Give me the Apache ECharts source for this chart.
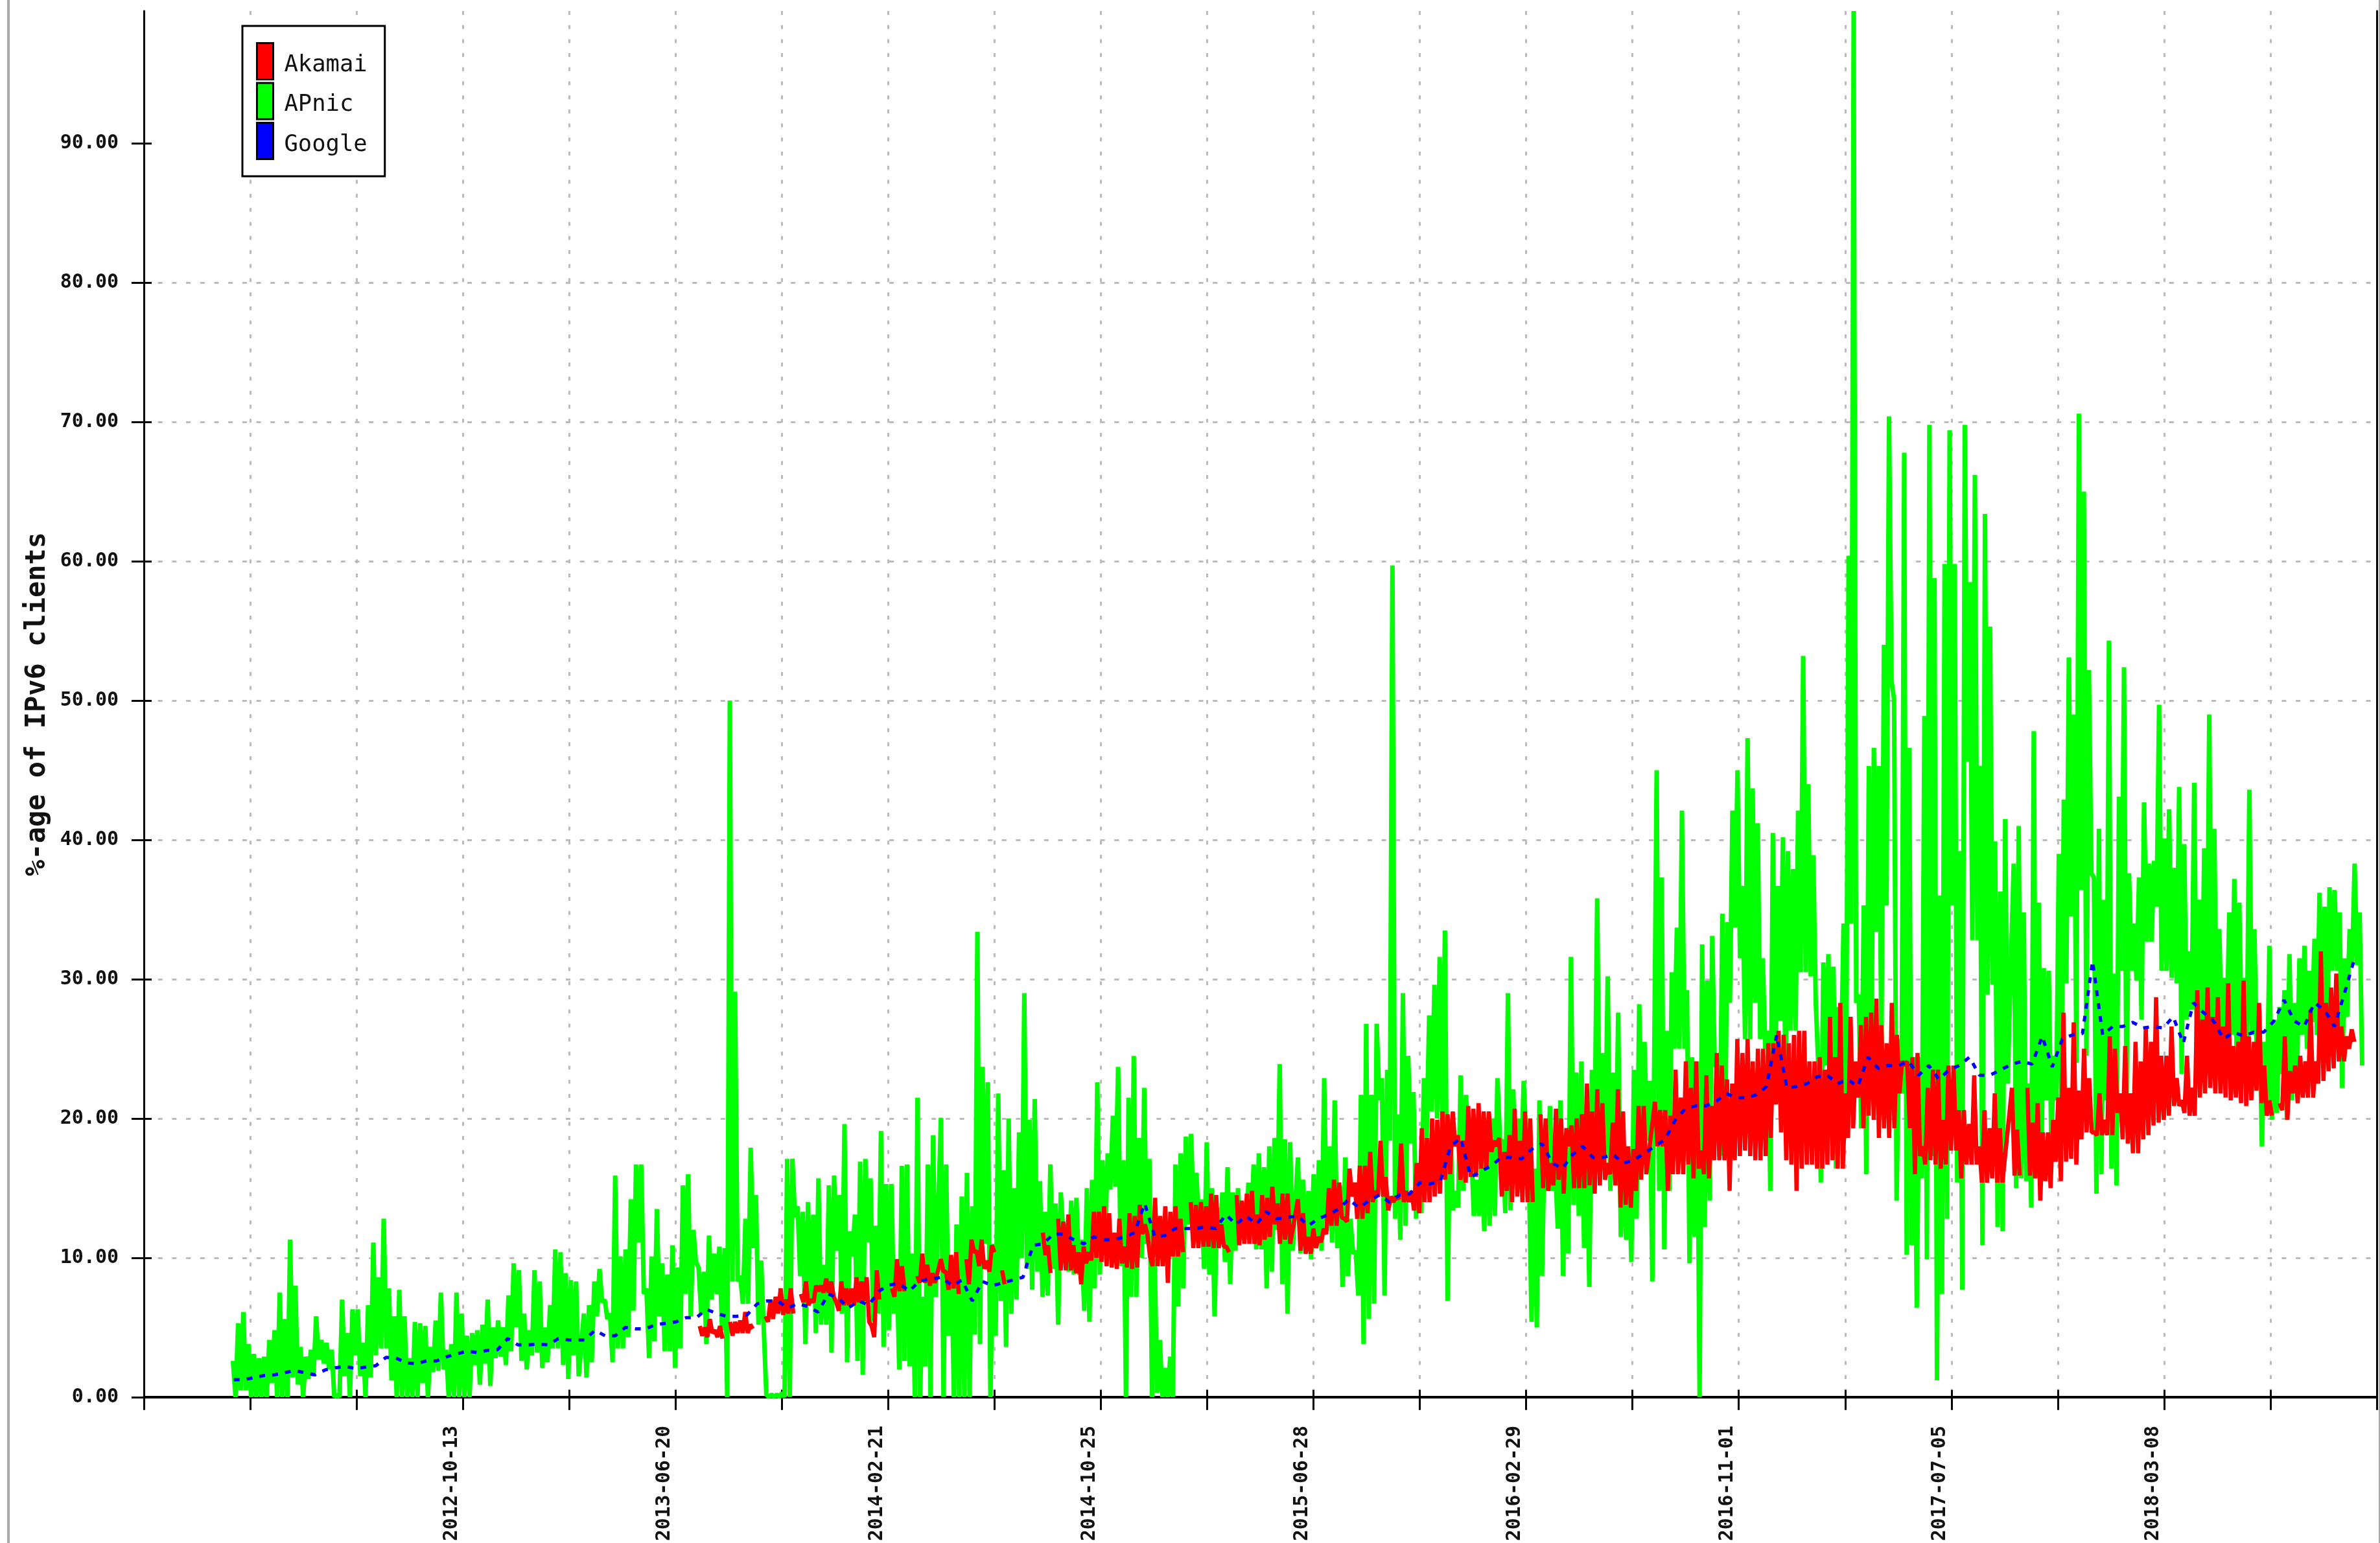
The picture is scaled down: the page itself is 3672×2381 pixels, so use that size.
<!DOCTYPE html>
<html><head><meta charset="utf-8">
<style>html,body{margin:0;padding:0;background:#fff}#c{width:3672px;height:2381px}</style>
<script src="https://cdn.jsdelivr.net/npm/echarts@6/dist/echarts.min.js"></script>
</head><body><div id="c"></div>
<script>
// Tick labels: every second tick of the day axis, starting at the 4th tick
const xTickLabels = ['2012-10-13','2013-06-20','2014-02-21','2014-10-25','2015-06-28','2016-02-29','2016-11-01','2017-07-05','2018-03-08'];
const dayTick = 123;
const dayMax = 2583;
const seriesNames = ['Akamai','APnic','Google'];

// Each array: alternating high, low of successive columns (%). Spans are in days from the axis start.
const apnicSpans = [[103,506],[509,919],[922,1332],[1335,1748],[1750,2159],[2163,2569]];
const apnic1 = [2.6,0,5.3,0.5,6.1,0.5,3.8,0,3.1,0,2.8,0,2.9,0,4.1,1,4.8,0,7.5,0,5.6,0,11.3,1.4,8,0.9,3.6,0,2.9,1.3,3.4,1.5,5.8,2.7,4.1,2.4,3.9,2,3.4,0,0.2,0,7,1.5,4.6,0,6.3,3,6.3,1.5,3.9,0,6.6,1.4,11.1,3,8.6,3.5,12.8,3.5,7.8,1.2,5.8,0,7.7,0,5.8,0,2.8,0,5.4,0,5.3,1,5.1,0,3.6,1.8,5.5,1.9,7.5,2,3.4,0,3.8,0,7.5,0,6,0,4.4,0,4.6,2.3,4.8,0.9,5.2,2.4,7,0.8,5,2.8,5.5,2.9,5,2.3,7.3,3.3,9.6,5,9.1,2.6,6,2,4.8,3,9.1,3.2,8.3,2.1,5,2.5,6.6,3.5,10.6,3.5,10.4,2.3,8.9,1.3,8.4,3,8.3,1.5];
const apnic2 = [6,1.4,6.6,2.5,8.3,5.8,9.2,6.8,7,5.6,6,2.5,15.9,3.5,10.1,3.5,10.6,4.3,14.2,6.2,16.7,11.1,16.7,7.4,7.8,2.8,10.1,4,13.5,5.8,9.6,3.3,8.8,3.3,10.9,2.1,9.3,3.5,15.2,7.4,16,5.8,12,9.7,9.3,6,9,3.8,11.6,7,10.3,7.4,10.8,4.8,10.7,0,50,8.3,29.1,8.3,8.7,6.7,12.8,6.7,17.9,10.7,14.5,5.2,9.8,5,0.2,0,0.2,0,0.2,0,0.3,0,17.1,0,17.1,12.9,13.7,8.7,13.3,3.8,14,6.8,13.1,4.6,15.7,5.2,9.5,5.2,15.2,3.2,15.9,10.5,14.5,6,19.6,2.5,11.9,10.1,13.1,2.6,16.9,1.6,17.1,11.1,15.7,5.4,12.3,6,19.1,3.6,15.3,4.8,15.3,6,9.9,2,16.6,2.6,16.7,2.2,10.3,0,21.5,0,7.2,2.2,16.7,0,18.8,7.2];
const apnic3 = [20.05,0,16.7,4.4,10,0,12.4,0,14.4,0,16.1,0,13.7,4.5,33.4,3.8,23.7,11,22.6,0,11,4.4,21.8,6.9,16.3,3.6,20,6,15,7,19,10,29,9.2,19.9,7.7,21.4,9,15.5,7.2,13.3,7.3,16.7,9.2,13.9,5.2,14.7,11.5,12.4,9,14.1,8.8,14.3,8.8,11.3,6.2,15,5.4,15.6,7.8,22.6,8.8,17,11.3,17.5,14.9,20.2,15.1,23.7,9.4,17,0,21.5,7.2,24.5,7.2,18.6,10,22.2,11,17.1,0,9.9,0.3,4.1,0,2.1,0,2.9,0,16.7,6.5,17.5,7.8,18.7,12.4,18.9,12.9,16.1,12.4,14.2,9.2,18.3,8.8,15,5.8,13.6,11,14.7,9.7,16.5,8.1,14.7,10.5,15,11.3,14,11.3,15.4,12,16.7,10.6,17.5,10.6,16.5,7.8,18,9,18.6,12,23.9,8.1,18.5,6,18.3,10.5];
const apnic4 = [17.2,10.3,15.6,10.3,14.8,9.9,16,10.7,17,10.5,22.9,11.9,18,11.1,21.3,10.7,15.2,7.9,17.2,8.7,12.8,10.3,10.5,7.3,21.7,3.8,26.8,5.6,21.7,6.7,26.8,21.3,22.9,7.3,23.5,18.4,59.7,12.8,20.3,11.3,29,12.3,24.5,18.2,21.9,12.8,16.8,13.2,22.9,18.4,27.4,20.5,29.6,20,31.6,20,33.5,6.9,20,13.4,14.8,13.6,23.1,14.8,21.7,18.4,18,13,15.6,13,17.2,11.9,20,12.3,20,13,22.9,18.4,18.4,13.2,29,13.4,22.1,16.4,20,16.4,22.7,18.4,16,5.4,16.4,5,21.3,8.7,18.8,14.8,20.9,14.8,16.4,12.1,21.3,8.7,17.2,10.3,31.6,13.8,23.3,13,24.1,10.7,18.4,7.9,23.5,18.4,35.8,16.4,24.7,17.2,30.2,14.8,23.3,15.2,27.6,11.5,17.2,11.3,16.8,9.7,23.5,12.8,28.2,19.7,25.5,18.4,22.7,8.3];
const apnic5 = [45,14.8,37.3,10.6,26.3,14.8,30.5,25,33.7,25,42.1,25,29.2,9.6,24.4,11.5,24.1,0,32.5,12.2,29.9,14.1,33.1,23.8,23.8,17.3,34.7,17.3,34.1,28.3,42.1,33.7,45,31.5,36.7,25.7,47.3,25.7,43.7,28.3,41.2,25.7,31.5,25,26.3,14.8,40.5,23.8,36.7,27,40.2,22.5,39.2,26.3,37.9,26.3,42.1,30.5,53.2,30.5,44,30.2,38.9,28.3,23.8,15.4,31.2,23.8,31.8,23.2,30.9,16.4,28,23.8,34,20.5,60.4,34,99.5,28.3,28.9,19.3,35.3,16,45.3,25,46.6,33.4,45.3,25,54,35.3,70.4,51.4,50.1,14.1,25.7,21.8,67.8,10.2,46.6,10.9,24.4,6.4,24.4,15.7,48.9,9.9,69.8,17.3,58.8,1.2,36,7.4,59.8,12.8,69.4,35.3,59.8,15.4,39.2,7.7,69.8,45.6,58.5,32.8,66.2,32.8,45.3,10.9,63.4,28.9,55.3,29.6,39.9,12.2,36.3,11.9,41.5,22.5];
const apnic6 = [38.3,15,41,15.7,34.8,15.5,22.5,13.6,47.8,15.7,35.5,15.7,30.8,21.3,30.6,18.1,24.5,21.3,39,21.3,42.9,29.7,53.1,34.5,49,24,70.6,36.4,65,24.5,52.2,37.6,37.3,14.6,40.8,16,35.7,21.3,54.3,16.4,30.4,15.2,43.1,30.6,52.4,21.3,37.6,30.6,34,29.9,37.3,27.1,42.7,32.7,38.3,32.7,38.5,35.2,49.7,30.6,40.1,30.6,42.2,30.1,38,29.7,43.8,23.2,39.7,27.1,32,27.8,44.1,25,35.7,25.5,39.4,26,49,26,40.8,26.4,33.6,26,30.1,26.4,34.8,26,37.2,23.6,35.5,25,30.1,25,43.6,26,33.6,24.5,27.8,18,25.5,21.3,32.4,19.9,27.1,20.4,28,23.2,29.2,19.9,31.8,21.3,28.3,23.2,31.5,26,32.4,25,30.6,26.9,32.9,26,36.2,26,35.2,24.1,36.6,30.6,36.4,30.6,34.8,22.2,31.5,27.3,33.6,31,38.3,31,34.8,23.8];

const akamaiSpans = [[643,918],[922,1329],[1335,1741],[1748,2153],[2161,2560]];
const akamai1 = [5.1,4.4,5,4.3,5.6,4.6,4.8,4.3,5.1,4.2,null,null,5.4,4.4,5.4,4.6,5.5,4.6,6.1,4.6,5.2,4.9,null,null,null,null,5.8,5.4,7,5.6,7.2,6,7.8,5.9,7,6,7.8,6,null,null,7.4,6.8,8.3,6.6,7,6.8,8,7.6,8,7.5,8.5,7.5,8.3,7.2,6.8,6.2,8.3,6.6,7.8,6.6,7.8,6.6,8.6,6.8,8.3,6.9,8.6,5.4,5.1,4.3,9.1,7,null,null,null,null,7.8,7.2,9.9,7.6,9.4,7.6,null,null,null,null,8.7,8.2,10.3,8.2,9.5,8,8.9,8.2];
const akamai2 = [9.9,9,9,7.7,10.2,7.8,10.4,7.4,null,null,9.9,8.1,11.3,10.4,10.5,9.4,11.3,9.2,9.8,9,10.9,10.4,null,null,9.1,8.1,null,null,null,null,null,null,null,null,null,null,null,null,null,null,11.8,10.2,10.9,8.9,null,null,12.8,9.1,12.6,9.1,13.1,9.1,10.9,8.9,10.4,8.1,10.8,9.6,10.4,9.8,13.3,10,13.3,9.7,13.7,9.4,13.2,9.3,11.8,9.2,12.8,9.6,10.8,9.3,13.2,9.2,13,9.3,13.8,11.7,12.4,11.7,10.1,9.4,14.3,9.4,13,9.4,13.7,8.2,13.3,10.1,13.7,10.1,12.8,10.4,null,null,14,10.7,13.8,10.7,14,10.8,13.7,10.8,14.6,10.7,14.5,10.7,12.4,10.8,10.8,10.4,null,null,14.5,10.9,14.1,11,14.6,11,14.8,11,13.1,10.9,14.5,11.3,14.3,11.5,15.1,12.4,13.9,11,14.6,11.3,14.6,11];
const akamai3 = [14.2,10.5,13.2,10.3,11.5,10.3,12.1,10.7,11.5,11.1,12.1,11.7,15,12.3,15.6,12.3,15.4,12.9,12.8,12.6,16.4,14.4,15.4,12.8,16.6,12.8,16.6,13.2,17.6,14,14.8,14.4,18.4,14.4,15.8,13.4,14.4,14,14.4,14.2,18.2,14,14.8,14,14.8,13.4,16.8,13.2,19.3,14,18.6,14,20,14.4,19.9,14.6,20.5,15.6,20.3,16,20.5,18,18.8,15.6,18.4,15.4,20.9,15.8,20.7,15.8,21.1,16.4,20.5,16.4,20.5,17.6,18.4,18,18.6,14.4,17.6,14.8,18.8,14,20.7,14.4,18.4,14,20.5,14,20,14,null,null,20.3,15,20,14.8,16.8,15.2,20.7,15.6,20,14.6,19.3,18,19.5,15,20,15,20.3,15,22.5,15.2,20.5,14.6,22.1,15.2,21.1,15.6,16.8,16,19.7,15.2,22.1,13.6,20.5,13.8,18,13.6,17.8,14.8,20.9,15.6,20.9,16];
const akamai4 = [21.2,18,20.6,18,20.6,14.8,20.2,16,23.5,16,21.5,16,24.1,16.7,22.2,15.7,24.1,16.4,17.7,16,23.1,15.7,20.9,17,24.7,17,23.8,17,22.8,14.8,22.5,17,25.7,17.3,24.7,17.7,25.7,17.3,24.1,17,25,17,25,17.3,25.4,18.6,25.4,21,26.3,19,26,17,25.4,16.7,26,14.8,26.3,16.4,26.3,16.7,24.1,16.7,24.1,16.4,24.4,16.4,23.5,16.7,27.3,17,24.4,16.4,28.3,16.4,21.8,18.6,27.3,19.3,24.1,21.5,26.7,19.3,27.3,20.2,27.6,19.9,28.6,18.6,26.7,19.3,25.4,18.6,28.3,19.3,26,21.8,24.1,23.8,24.1,19.3,24.4,16,24.7,17.3,18,16.7,22.2,17,23.5,16.7,23.5,16.4,19.9,16.7,23.8,17.7,23.8,17.7,20.6,15.7,20.6,16.7,19.6,16.7,23.1,16.7,18,15.4,20.6,15.4,19.3,15.7,21.8,15.4,19.3,15.4];
const akamai5 = [22.2,15.9,19.2,15.9,null,null,22.2,15.9,19.7,15.7,21.1,14.1,19,15.5,19,15,19.9,16.9,21.5,15.5,27.6,16.9,22.2,17.1,26.9,16.7,22,18.5,25,19,22.9,19,19,18.8,21.8,18.8,19.9,18.8,25.9,18.8,25,20.4,21.8,18.5,25.2,18.2,21.8,17.5,25.5,17.5,24.1,18.5,26.6,18.8,25.5,19.5,28.7,19.7,24.5,19.9,24.5,20.2,26.6,20.9,22.9,20.9,21.3,20.4,24.5,20.2,22.2,20.2,29.2,21.5,27.1,21.8,29.4,22.2,27.3,21.8,28.7,21.8,26.6,21.5,29.7,21.3,25.2,21.5,25.5,21.1,29.9,20.9,25.9,21.3,25.5,22,28.3,21.1,23.8,20.2,21.3,20.2,null,null,21.1,20.6,25.9,19.9,23.4,21.8,23.8,21.1,24.5,21.5,24.1,21.5,27.8,21.5,24.1,22.5,32,22.7,28.3,23.4,29.4,23.6,30.4,24.1,26.6,24.1,25.9,25,26.4,25.5];

const googleSpans = [[104,503],[510,909],[923,1322],[1335,1735],[1748,2147],[2161,2569]];
const google1 = [1.25,1.25,1.4,1.55,1.6,1.75,1.9,1.75,1.6,1.95,2.1,2.2,2.05,2.15,2.25,2.85,2.8,2.45,2.4,2.6,2.6,2.9,3.1,3.3,3.2,3.35,3.4,4.2,3.75,3.75,3.8,3.75,4.2,4.1];
const google2 = [4.1,4.8,4.4,4.4,5,4.9,4.9,5.2,5.3,5.4,5.7,5.7,6.3,6,5.8,5.8,5.9,6.7,6.9,6.9,6.4,6.7,6.5,6.1,7.4,7.1,6.4,6.9,6.6,7.6,8.05,8.15,7.6,8.35];
const google3 = [8.6,8,8.4,6.9,8.3,8,8.2,8.4,8.6,10.9,11,11.7,11.7,11.3,11,11.5,11.3,11.3,11.5,11.8,13.9,11.5,11.6,12.1,12.1,12.1,12.2,12.1,13.1,12.4,13,12.4,13.3,12.8];
const google4 = [13,12.3,12.8,13.1,13.5,14.2,13.6,14.1,14.5,14,14.5,14.6,15.4,15.3,15.5,18,18.6,15.8,16.2,16.6,17.2,17.2,17.1,17.8,18.2,16.8,16.4,17.4,18,17.2,17.2,17.4,16.8,17];
const google5 = [18,18.5,19.9,20.7,20.9,20.9,21.2,21.8,21.5,21.5,21.7,22.3,26,22.2,22.3,22.5,23,23.1,22.5,22.8,22.3,24.4,23.6,23.8,23.8,24.1,23.1,23.8,22.8,23.5,23.8,24.4,23.1,23.1];
const google6 = [23.9,24.1,23.9,25.9,23.7,25.7,26,26.1,31.3,26,26.6,26.6,26.9,26.5,26.6,26.5,27.3,25.4,28.3,27.6,27,25.7,26.2,25.9,26.2,26.2,27,28.5,27,26.6,28.3,27.8,26.6,29,31.5];

// alternate high/low columns: [[day, value], ...]
function columns(parts, spans) {
  const out = [];
  parts.forEach((vals, s) => {
    const [a, b] = spans[s];
    const step = (b - a) / vals.length;
    vals.forEach((v, i) => out.push([a + i * step, v]));
    out.push([b, null]);
  });
  // keep segments joined where both sides have values
  return out.filter((p, i) => !(p[1] === null && i + 1 < out.length && out[i - 1][1] !== null && out[i + 1] && out[i + 1][1] !== null));
}
const apnicData = columns([apnic1,apnic2,apnic3,apnic4,apnic5,apnic6], apnicSpans);
const akamaiData = columns([akamai1,akamai2,akamai3,akamai4,akamai5], akamaiSpans);
const googleData = columns([google1,google2,google3,google4,google5,google6], googleSpans);

const font = '"DejaVu Sans Mono", monospace';
const valueAxisBase = { type:'value', min:0, max:dayMax, interval:dayTick };
const chart = echarts.init(document.getElementById('c'), null, {renderer:'canvas', width:3672, height:2381});
chart.setOption({
  animation:false,
  backgroundColor:'#fff',
  grid:{left:222, right:5, top:17, bottom:223, containLabel:false},
  legend:{
    left:374, top:40, orient:'vertical', selectedMode:false, z:20,
    padding:[25,27,25,21], itemGap:2.5, itemWidth:25, itemHeight:56,
    backgroundColor:'#fff', borderColor:'#000', borderWidth:3,
    formatter:name => '{t|' + name + '}',
    textStyle:{fontFamily:font, fontSize:35.5, color:'#111',
      rich:{t:{fontFamily:font, fontSize:35.5, color:'#111', padding:[12,0,0,12]}}},
    data:seriesNames.map(n => ({name:n, icon:'rect', itemStyle:{borderColor:'#000', borderWidth:3}}))
  },
  xAxis:[
    Object.assign({}, valueAxisBase, {
      position:'bottom',
      axisLine:{show:true, onZero:false, lineStyle:{color:'#000', width:4}},
      axisTick:{show:true, length:20, lineStyle:{color:'#000', width:3}},
      axisLabel:{show:true, rotate:90, margin:44, fontFamily:font, fontSize:29.6, fontWeight:'bold', color:'#111',
        lineHeight:34, verticalAlign:'bottom', hideOverlap:false, showMinLabel:true, showMaxLabel:true,
        formatter:v => { const k = v / dayTick - 3; return (k >= 0 && k % 2 === 0 && xTickLabels[k / 2]) || ''; }},
      splitLine:{show:true, showMinLine:false, showMaxLine:false, lineStyle:{color:'#bbb', width:3, type:[6,15.7]}}
    }),
    Object.assign({}, valueAxisBase, {
      position:'bottom',
      axisLine:{show:false},
      axisTick:{show:true, inside:true, length:11, lineStyle:{color:'#000', width:3}},
      axisLabel:{show:false}, splitLine:{show:false}
    })
  ],
  yAxis:[
    {type:'value', min:0, max:99.5, interval:10, position:'left',
      name:'%-age of IPv6 clients', nameLocation:'middle', nameGap:143, nameRotate:90,
      nameTextStyle:{fontFamily:font, fontSize:42, fontWeight:'bold', color:'#111'},
      axisLine:{show:true, onZero:false, lineStyle:{color:'#000', width:3}},
      axisTick:{show:true, length:19, lineStyle:{color:'#000', width:3}, customValues:[0,10,20,30,40,50,60,70,80,90]},
      axisLabel:{show:true, margin:39, fontFamily:font, fontSize:30, fontWeight:'bold', color:'#111',
        customValues:[0,10,20,30,40,50,60,70,80,90], formatter:v => v.toFixed(2)},
      splitLine:{show:true, showMinLine:false, showMaxLine:false, lineStyle:{color:'#bbb', width:3, type:[7,14.7]}}
    },
    {type:'value', min:0, max:99.5, interval:10, position:'left',
      axisLine:{show:false}, axisLabel:{show:false}, splitLine:{show:false},
      axisTick:{show:true, inside:true, length:12, lineStyle:{color:'#000', width:3}, customValues:[0,10,20,30,40,50,60,70,80,90]}
    },
    {type:'value', min:0, max:99.5, interval:10, position:'right',
      axisLine:{show:true, onZero:false, lineStyle:{color:'#000', width:3}},
      axisTick:{show:false}, axisLabel:{show:false}, splitLine:{show:false}
    }
  ],
  series:[
    {name:'Akamai', type:'line', z:3, data:akamaiData, symbol:'none', connectNulls:false,
      itemStyle:{color:'#ff0000'}, lineStyle:{color:'#ff0000', width:6.5, join:'bevel', cap:'butt'}},
    {name:'APnic', type:'line', z:2, data:apnicData, symbol:'none', connectNulls:false,
      itemStyle:{color:'#00ff00'}, lineStyle:{color:'#00ff00', width:7, join:'bevel', cap:'butt'}},
    {name:'Google', type:'line', z:4, data:googleData, symbol:'none', connectNulls:false,
      itemStyle:{color:'#0000ff'}, lineStyle:{color:'#0000ff', width:5, type:[9,11], join:'bevel', cap:'butt'}}
  ],
  graphic:[
    {type:'rect', z:30, shape:{x:11, y:0, width:4, height:2381}, style:{fill:'#aaa'}},
    {type:'rect', z:30, shape:{x:3670, y:0, width:2, height:2381}, style:{fill:'#aaa'}}
  ]
});
</script></body></html>
